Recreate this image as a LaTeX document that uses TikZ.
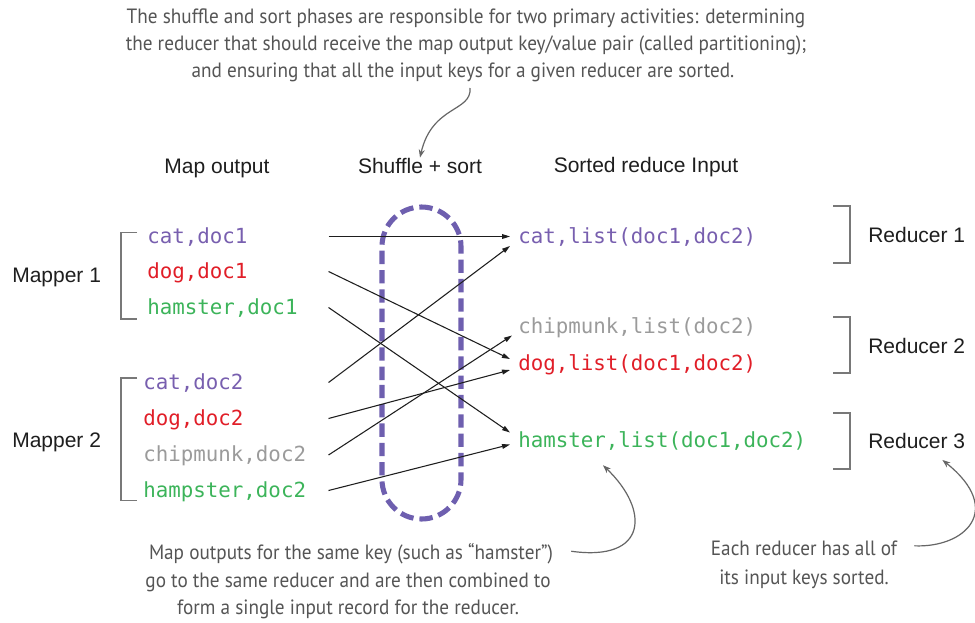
\documentclass[tikz,border=0pt]{standalone}
\usepackage{fontspec}
\usetikzlibrary{arrows.meta,calc}
\setmainfont{Liberation Sans}
\newfontfamily\monof{DejaVu Sans Mono}
\newfontfamily\handf[FakeStretch=0.93]{PT Sans}
\definecolor{kpurple}{RGB}{120,95,175}
\definecolor{kred}{RGB}{225,30,40}
\definecolor{kgreen}{RGB}{60,180,90}
\definecolor{kgray}{RGB}{155,155,155}
\definecolor{dashpurple}{RGB}{110,95,175}
\definecolor{handgray}{RGB}{85,85,85}
\definecolor{brgray}{RGB}{120,120,120}
\definecolor{lblack}{RGB}{30,30,30}
\tikzset{
  hand/.style={anchor=base, inner sep=0pt, text=handgray, font=\handf\fontsize{15.5pt}{18pt}\selectfont},
  lbl/.style={anchor=base, inner sep=0pt, text=lblack, font=\fontsize{15.75pt}{18pt}\selectfont},
  lblw/.style={lbl, anchor=base west},
  monotext/.style={inner sep=0pt, text height=9.75pt, text depth=0pt, font=\monof\fontsize{15.6pt}{18pt}\selectfont},
  leftA/.style={monotext, anchor=base west, text width=135.75pt, align=left},
  leftB/.style={monotext, anchor=base west, text width=138.75pt, align=left},
  rightT/.style={monotext, anchor=base west},
  flow/.style={draw=lblack, line width=0.8pt, -{Triangle[length=6pt,width=3.6pt]}},
  note/.style={draw=handgray!90, line width=0.9pt, -{Stealth[length=6pt,width=4.5pt]}},
  bracket/.style={draw=brgray, line width=1pt},
}
\begin{document}
\begin{tikzpicture}[x=0.75pt,y=-0.75pt]
\useasboundingbox (0,0) rectangle (975,622);
\fill[white] (0,0) rectangle (975,622);

% top annotation
\node[hand] (ta1) at (466,23) {The shuffle and sort phases are responsible for two primary activities: determining};
\node[hand] (ta2) at (466,50) {the reducer that should receive the map output key/value pair (called partitioning);};
\node[hand] (ta3) at (463,77) {and ensuring that all the input keys for a given reducer are sorted.};

% headers
\node[lbl] (hmap) at (217,173) {Map output};
\node[lbl] (hshuf) at (420,173) {Shuffle + sort};
\node[lbl] (hsort) at (646,172) {Sorted reduce Input};

\coordinate (tastart) at (470,88);
\draw[note] (tastart) .. controls (472,112) and (432,105) .. (hshuf.north);

% dashed shuffle region
\draw[dashpurple, line width=3.8pt, dash pattern=on 10pt off 4.5pt]
  (382,380) -- (382,246.5) arc[start angle=180, end angle=360, radius=39.5]
  -- (461,479.5) arc[start angle=0, end angle=180, radius=39.5] -- cycle;

% mapper labels and brackets
\node[lblw] (m1) at (12,282.5) {Mapper 1};
\node[lblw] (m2) at (12,447.5) {Mapper 2};
\draw[bracket] (137,232.7) -- (121,232.7) -- (121,319) -- (137,319);
\draw[bracket] (137,378) -- (121,378) -- (121,500.7) -- (137,500.7);

% map outputs
\node[leftA, text=kpurple] (c1) at (147,243) {cat,doc1};
\node[leftA, text=kred] (d1) at (147,278) {dog,doc1};
\node[leftA, text=kgreen] (h1) at (147,314) {hamster,doc1};
\node[leftB, text=kpurple] (c2) at (143,389) {cat,doc2};
\node[leftB, text=kred] (d2) at (143,425) {dog,doc2};
\node[leftB, text=kgray] (p2) at (143,461.5) {chipmunk,doc2};
\node[leftB, text=kgreen] (h2) at (143,497) {hampster,doc2};

% reduce inputs
\node[rightT, text=kpurple] (rc) at (518,243) {cat,list(doc1,doc2)};
\node[rightT, text=kgray] (rp) at (518,333) {chipmunk,list(doc2)};
\node[rightT, text=kred] (rd) at (518,370) {dog,list(doc1,doc2)};
\node[rightT, text=kgreen] (rh) at (518,447) {hamster,list(doc1,doc2)};

% connectors
\draw[flow] (c1.east) -- ($(rc.west)+(-8,0)$);
\draw[flow] (d1.east) -- ($(rd.west)+(-8,-4.5)$);
\draw[flow] (h1.east) -- ($(rh.west)+(-8,-8)$);
\draw[flow] (c2.east) -- ($(rc.west)+(-8,9.5)$);
\draw[flow] (d2.east) -- ($(rd.west)+(-8,6.5)$);
\draw[flow] (p2.east) -- ($(rp.west)+(-6,9)$);
\draw[flow] (h2.east) -- ($(rh.west)+(-8,4)$);

% reducer brackets and labels
\draw[bracket] (833,206) -- (850,206) -- (850,263) -- (833,263);
\draw[bracket] (833,317) -- (850,317) -- (850,373) -- (833,373);
\draw[bracket] (833,413) -- (850,413) -- (850,469) -- (833,469);
\node[lblw] (r1) at (868,242.5) {Reducer 1};
\node[lblw] (r2) at (868,353.5) {Reducer 2};
\node[lblw] (r3) at (868,448.5) {Reducer 3};

% bottom-left annotation
\node[hand] (bl1) at (351,559) {Map outputs for the same key (such as “hamster”)};
\node[hand] (bl2) at (348,587) {go to the same reducer and are then combined to};
\node[hand] (bl3) at (348,614) {form a single input record for the reducer.};
\draw[note] ($(bl1.east)+(18,-2)$) .. controls (648,562) and (650,510) .. ($(rh.south west)+(85,18)$);

% bottom-right annotation
\node[hand] (br1) at (804,555) {Each reducer has all of};
\node[hand] (br2) at (804,584) {its input keys sorted.};
\draw[note] ($(br1.east)+(17,-2)$) .. controls (965,548) and (1005,510) .. ($(r3.south east)+(-23,11)$);
\end{tikzpicture}
\end{document}
